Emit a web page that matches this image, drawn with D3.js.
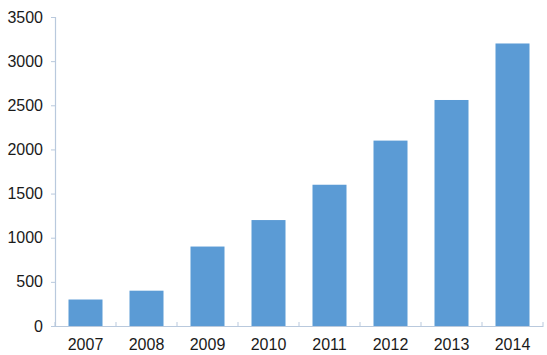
<!DOCTYPE html>
<html>
<head>
<meta charset="utf-8">
<script src="https://cdn.jsdelivr.net/npm/d3@7"></script>
<style>
html,body{margin:0;padding:0;background:#fff;}
svg{display:block;}
text{font-family:"Liberation Sans",Arial,sans-serif;}
</style>
</head>
<body>
<svg id="chart" width="547" height="355"></svg>
<script>
const categories = ["2007","2008","2009","2010","2011","2012","2013","2014"];
const values = [300, 400, 900, 1200, 1600, 2100, 2560, 3200];
const yTicks = [0, 500, 1000, 1500, 2000, 2500, 3000, 3500];

const svg = d3.select("#chart");
const margin = {left:55, right:4, top:17, bottom:29};
const W = 547, H = 355;

const band = d3.scaleBand().domain(categories).range([margin.left, W - margin.right]);
const y = d3.scaleLinear().domain([0, 3500]).range([H - margin.bottom, margin.top]);

const axisColor = "#b9c9dd";

// bars
svg.append("g").selectAll("rect").data(values).join("rect")
  .attr("x", (d,i) => band(categories[i]) + band.bandwidth()/2 - 17)
  .attr("width", 34)
  .attr("y", d => y(d))
  .attr("height", d => y(0) - y(d))
  .attr("fill", "#5b9bd5");

// y axis
const yAxis = svg.append("g").attr("transform", `translate(${margin.left},0)`)
  .call(d3.axisLeft(y).tickValues(yTicks).tickFormat(d3.format("d")).tickSize(4).tickPadding(8));
yAxis.select(".domain").attr("stroke", axisColor).attr("stroke-width", 1.2);
yAxis.selectAll(".tick line").attr("stroke", axisColor);
yAxis.selectAll(".tick text").attr("font-size", 16).attr("fill", "#1a1a1a")
  .attr("font-family", "Liberation Sans, Arial, sans-serif");

// x axis
const xAxis = svg.append("g").attr("transform", `translate(0,${y(0)})`)
  .call(d3.axisBottom(band).tickSize(0).tickPadding(13));
xAxis.select(".domain").attr("stroke", axisColor).attr("stroke-width", 1.2);
xAxis.selectAll(".tick text").attr("font-size", 16).attr("fill", "#1a1a1a")
  .attr("font-family", "Liberation Sans, Arial, sans-serif");

// boundary ticks on x axis (pointing up)
const bounds = categories.map(c => band(c)).concat([band(categories[categories.length-1]) + band.bandwidth()]);
svg.append("g").selectAll("line").data(bounds).join("line")
  .attr("x1", d => d).attr("x2", d => d)
  .attr("y1", y(0)).attr("y2", y(0) - 4)
  .attr("stroke", axisColor);
</script>
</body>
</html>
